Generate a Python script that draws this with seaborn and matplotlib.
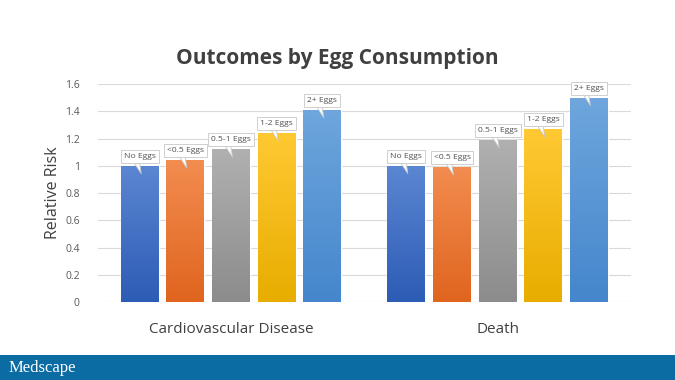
import numpy as np
import pandas as pd
import matplotlib
matplotlib.use("Agg")
import matplotlib.pyplot as plt
import seaborn as sns
from matplotlib.colors import LinearSegmentedColormap
from matplotlib.patches import Rectangle, Polygon

outcomes = ["Cardiovascular Disease", "Death"]
consumption = ["No Eggs", "<0.5 Eggs", "0.5-1 Eggs", "1-2 Eggs", "2+ Eggs"]
cvd_risk = [1.00, 1.04, 1.12, 1.24, 1.41]
death_risk = [1.00, 0.99, 1.19, 1.27, 1.50]
yticks = [0, 0.2, 0.4, 0.6, 0.8, 1, 1.2, 1.4, 1.6]

# top / bottom shade of each bar's gradient
top_colors = ["#5b86d2", "#f28c4f", "#b0b0b0", "#ffc933", "#6ea6dd"]
bottom_colors = ["#2d5cb5", "#e0651f", "#8c8c8c", "#e8ad00", "#4586cc"]


def build_frame():
    rows = []
    for outcome, vals in zip(outcomes, [cvd_risk, death_risk]):
        for c, v in zip(consumption, vals):
            rows.append({"outcome": outcome, "consumption": c, "risk": v})
    return pd.DataFrame(rows)


def main():
    df = build_frame()
    sns.set_style("white")
    plt.rcParams["font.family"] = ["Open Sans", "DejaVu Sans"]

    fig = plt.figure(figsize=(6.75, 3.8), dpi=100)
    ax = fig.add_axes([0.1448, 0.205, 0.79, 0.574])

    sns.barplot(data=df, x="outcome", y="risk", hue="consumption",
                hue_order=consumption, order=outcomes,
                palette=bottom_colors, width=0.856, gap=0.17,
                legend=False, ax=ax, zorder=3)

    ax.set_xlim(-0.5, 1.5)
    ax.set_ylim(0, 1.6)

    # pixel size in data units, for the callout shapes
    px = 2.0 / (0.79 * 675)
    py = 1.6 / (0.574 * 380)

    # gradient fill + callout labels
    for ci, container in enumerate(ax.containers):
        cmap = LinearSegmentedColormap.from_list(
            "g%d" % ci, [bottom_colors[ci], top_colors[ci]])
        for bar in container:
            x0, w, h = bar.get_x(), bar.get_width(), bar.get_height()
            grad = np.linspace(0, 1, 100).reshape(-1, 1)
            im = ax.imshow(grad, cmap=cmap, origin="lower", aspect="auto",
                           extent=[x0, x0 + w, 0, h], zorder=3.5)
            im.set_clip_path(bar)
            cx = x0 + w / 2
            ax.add_patch(Polygon([(cx - 7 * px, h + 5 * py),
                                  (cx - 0.5 * px, h + 5 * py),
                                  (cx + 1.5 * px, h - 8 * py)],
                                 closed=True, fc="white", ec="#c8c8c8",
                                 lw=0.6, zorder=4.8))
            ax.text(cx, h + 9.5 * py, consumption[ci],
                    ha="center", va="center", fontsize=6.1,
                    color="#505050", zorder=5,
                    bbox=dict(boxstyle="square,pad=0.35", fc="white",
                              ec="#c8c8c8", lw=0.6))

    ax.set_yticks(yticks)
    ax.set_yticklabels([("%g" % t) for t in yticks], fontsize=7.5, color="#595959")
    ax.tick_params(axis="x", labelsize=11, colors="#404040", length=0, pad=14)
    ax.tick_params(axis="y", length=0, pad=13)
    ax.yaxis.grid(True, color="#d9d9d9", lw=0.8, zorder=0)
    ax.set_axisbelow(True)
    for s in ax.spines.values():
        s.set_visible(False)
    ax.set_xlabel("")
    ax.set_ylabel("Relative Risk", fontsize=11.5, color="#404040")
    ax.yaxis.set_label_coords(-0.068, 0.5)

    fig.text(0.5, 0.845, "Outcomes by Egg Consumption", ha="center",
             va="center", fontsize=15, fontweight="bold", color="#404040")

    # footer band
    fig.patches.append(Rectangle((0, 0), 1, 25 / 380, transform=fig.transFigure,
                                 fc="#0b6ba3", ec="none", zorder=0))
    fig.text(0.012, 12.5 / 380, "Medscape", ha="left", va="center",
             fontsize=12, color="white", family="Liberation Serif")

    fig.savefig("out.png", dpi=100, facecolor="white")


if __name__ == "__main__":
    main()
